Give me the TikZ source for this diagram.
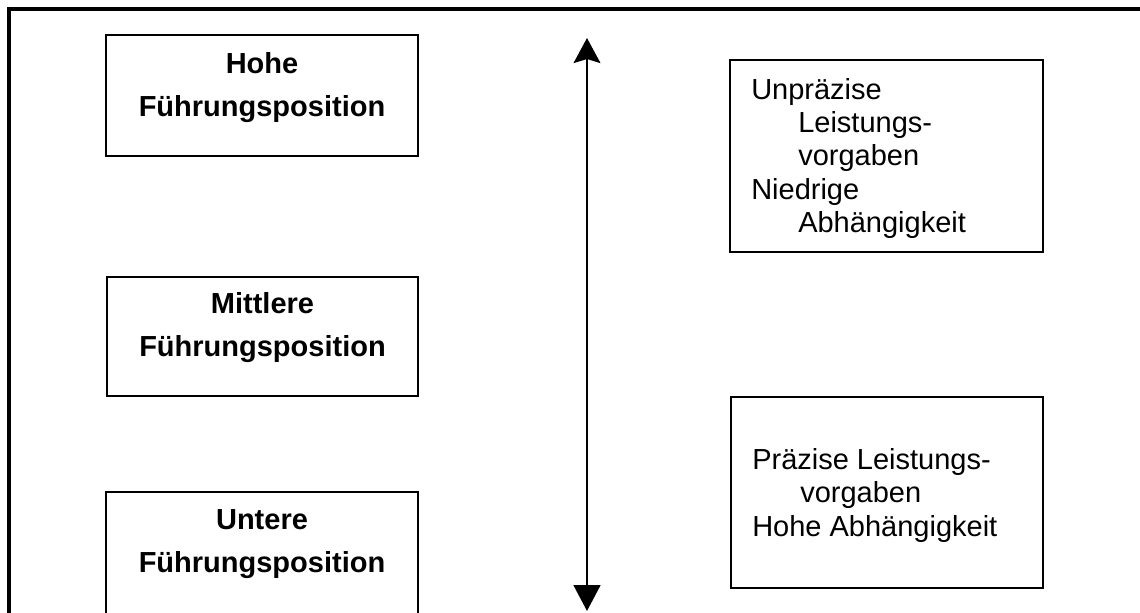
\documentclass[tikz,border=0pt]{standalone}
\usepackage{fontspec}
\setmainfont{Liberation Sans}
\usetikzlibrary{arrows.meta,fit}

% stacked lines with a fixed baseline distance; the node's base is the first line
\newcommand{\linesleft}[2]{\vtop{\baselineskip=#1\relax #2}}
\newcommand{\linescentre}[2]{\vtop{\baselineskip=#1\relax\halign{\hfil##\hfil\cr #2\cr}}}

\begin{document}
\begin{tikzpicture}[x=0.75pt,y=-0.75pt,
  frame/.style={draw=black, line width=2.3pt},
  box/.style={draw=black, line width=1.1pt, inner sep=0pt},
  level/.style={inner sep=0pt, anchor=base, font=\fontsize{21.75}{25}\selectfont\bfseries},
  trait/.style={inner sep=0pt, anchor=base west, font=\fontsize{21.75}{25}\selectfont},
  scale arrow/.style={line width=2.1pt,
    {Stealth[length=18.75pt, width=20pt, inset=3pt]}-{Triangle[length=19.5pt, width=20pt]}}
]
\useasboundingbox (0,0) rectangle (1140,612);
\clip (0,0) rectangle (1140,612);

% outer frame (runs past the lower and right edges)
\draw[frame] (9,9) rectangle (1170,650);

% management levels
\node[box, fit={(106,35) (418,156)}] (high) {};
\node[box, fit={(107,277) (418,396)}] (mid) {};
\node[box, fit={(106,492) (418,660)}] (low) {};

\node[level] (highT) at (262,73.3) {\linescentre{32.5pt}{Hohe\cr Führungsposition}};
\node[level] (midT) at (262.5,313.3) {\linescentre{32.5pt}{Mittlere\cr Führungsposition}};
\node[level] (lowT) at (262,529.3) {\linescentre{32.5pt}{Untere\cr Führungsposition}};

% vertical scale arrow
\coordinate (up) at (587,38);
\coordinate (down) at (587,611);
\draw[scale arrow] (up) -- (down);

% characteristics
\node[box, fit={(730,60) (1043,252)}] (vague) {};
\node[box, fit={(731,397) (1043,588)}] (precise) {};

\node[trait] (vagueT) at (751,99.3) {\linesleft{25pt}{%
  \hbox{Unpräzise}
  \hbox{\hspace*{35.25pt}Leistungs-}
  \hbox{\hspace*{35.25pt}vorgaben}
  \hbox{Niedrige}
  \hbox{\hspace*{35.25pt}Abhängigkeit}}};

\node[trait] (preciseT) at (752,469.3) {\linesleft{25.2pt}{%
  \hbox{Präzise Leistungs-}
  \hbox{\hspace*{36pt}vorgaben}
  \hbox{Hohe Abhängigkeit}}};
\end{tikzpicture}
\end{document}
